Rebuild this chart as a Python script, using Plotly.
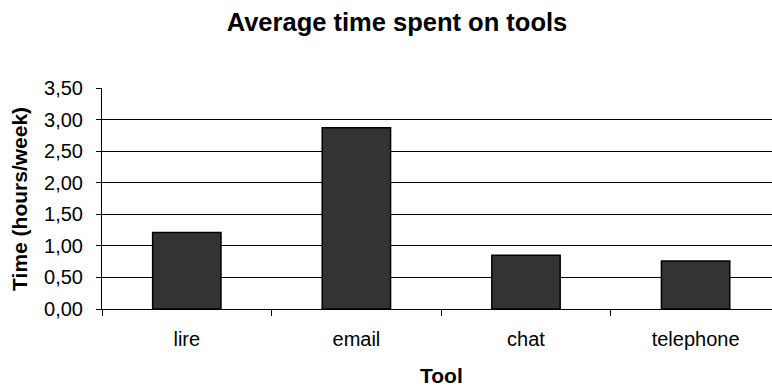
import plotly.graph_objects as go

tools = ["lire", "email", "chat", "telephone"]
hours = [1.21, 2.87, 0.85, 0.76]
y_ticks = [0, 0.5, 1.0, 1.5, 2.0, 2.5, 3.0, 3.5]

W, H = 772, 387
L, T, B = 101.6, 87.6, 387 - 309.3
plot_w = W - L
cat_w = 169.7

fig = go.Figure()
fig.add_trace(go.Bar(
    x=tools, y=hours,
    marker=dict(color="#333333", line=dict(color="#000000", width=1.5)),
    hoverinfo="x+y",
))

font_family = "Liberation Sans, Arial, sans-serif"
fig.update_layout(
    width=W, height=H,
    margin=dict(l=L, r=0, t=T, b=B, pad=0),
    paper_bgcolor="white", plot_bgcolor="white",
    separators=",.",
    bargap=0.597,
    showlegend=False,
    font=dict(family=font_family, color="black", size=20),
    title=dict(text="<b>Average time spent on tools</b>", x=397 / W, xanchor="center",
               y=1 - 22 / H, yanchor="middle", font=dict(size=25.5, color="black")),
)
fig.update_xaxes(
    type="category",
    range=[-0.5, -0.5 + plot_w / cat_w],
    tickson="boundaries", ticks="outside", ticklen=6, tickcolor="black", tickwidth=1,
    showline=True, linecolor="black", linewidth=1,
    showgrid=False, tickfont=dict(size=20), ticklabelstandoff=12,
)
fig.update_yaxes(
    range=[0, 3.5], tickvals=y_ticks, tickformat=".2f",
    ticks="outside", ticklen=5, tickcolor="black", tickwidth=1,
    showline=True, linecolor="black", linewidth=1,
    showgrid=True, gridcolor="black", gridwidth=1,
    zeroline=False, tickfont=dict(size=20), ticklabelstandoff=9,
)
fig.add_annotation(text="<b>Time (hours/week)</b>", xref="paper", yref="paper",
                   x=0, y=0.5, xshift=19 - L, textangle=-90, showarrow=False,
                   xanchor="center", yanchor="middle", font=dict(size=21, color="black"))
fig.add_annotation(text="<b>Tool</b>", xref="paper", yref="paper",
                   x=0, y=0, xshift=441 - L, yshift=-(375.5 - 309.3), showarrow=False,
                   xanchor="center", yanchor="middle", font=dict(size=21, color="black"))
fig.write_html("out.html")
